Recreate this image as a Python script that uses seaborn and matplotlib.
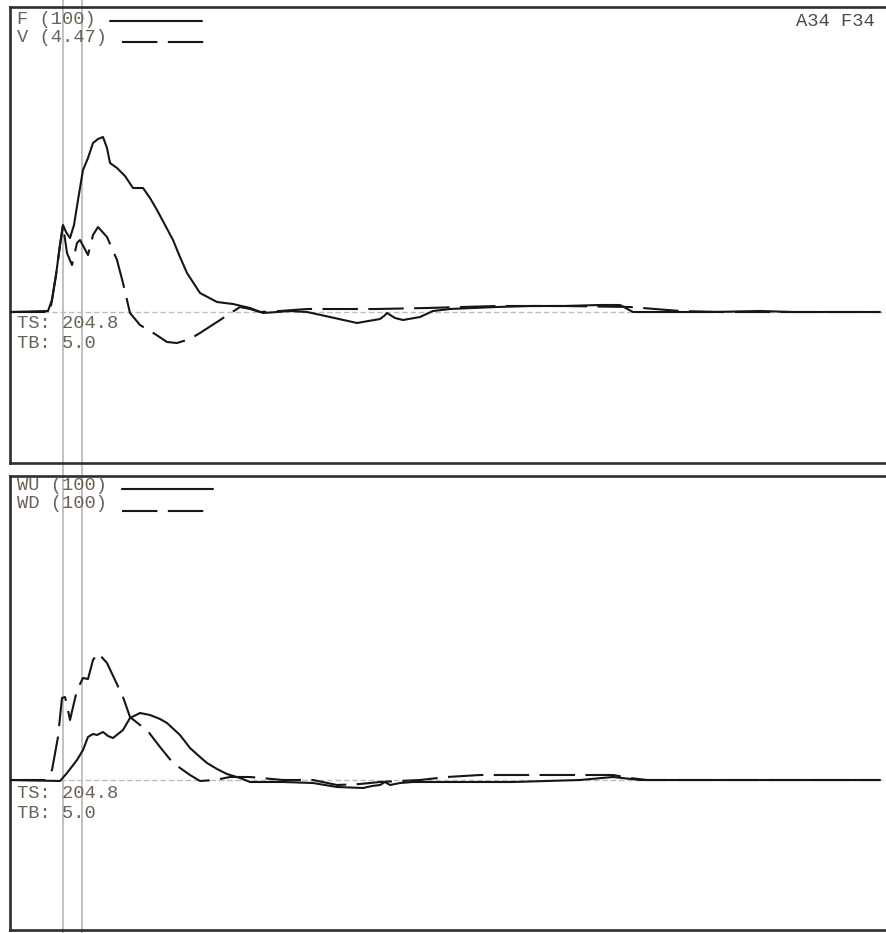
import matplotlib
matplotlib.use("Agg")
import matplotlib.pyplot as plt
import seaborn as sns
import pandas as pd

# sample index (0 = left edge of the trace window)
t_force = [0, 38, 42, 46, 50, 53, 56, 60, 64, 68, 73, 78, 83, 88, 93, 97, 100, 107, 115, 123,
           133, 140, 147, 155, 163, 170, 177, 190, 207, 223, 240, 253, 267, 280, 297, 320, 347,
           370, 374, 377, 385, 393, 410, 423, 440, 487, 520, 553, 590, 610, 623, 670, 703, 750,
           783, 830, 870]
force = [0, 1, 12, 37, 67, 87, 80, 74, 87, 112, 142, 154, 169, 173, 175, 164, 149, 144, 136, 124,
         124, 114, 102, 87, 72, 55, 39, 19, 10, 8, 4, -1, 0, 1, 0, -5, -11,
         -7, -4, -1, -6, -8, -5, 1, 3, 5, 6, 6, 7, 7, 0, 0, 0, 1,
         0, 0, 0]

t_vel = [0, 40, 46, 50, 53, 57, 62, 67, 70, 78, 83, 88, 97, 107, 113, 120, 130, 145, 157, 167,
         180, 190, 207, 230, 240, 250, 270, 297, 367, 417, 487, 553, 620, 670, 710, 870]
velocity = [0, 0, 37, 67, 87, 59, 47, 69, 72, 57, 77, 85, 75, 52, 29, -1, -13, -22, -30, -31,
            -27, -21, -10, 5, 3, 0, 1, 3, 3, 4, 6, 6, 5, 1, 0, 0]

t_wu = [0, 50, 57, 67, 73, 78, 83, 87, 93, 98, 103, 113, 120, 130, 140, 150, 157, 170, 180, 190,
        197, 207, 217, 230, 240, 273, 303, 327, 353, 362, 370, 375, 380, 390, 403, 453, 503, 570,
        603, 630, 690, 870]
wave_up = [0, -1, 7, 20, 30, 43, 46, 45, 48, 44, 42, 50, 62, 67, 65, 61, 57, 45, 32, 23,
           17, 11, 6, 2, -2, -2, -3, -7, -8, -6, -5, -2, -5, -3, -2, -2, -2, 0,
           3, 0, 0, 0]

t_wd = [0, 35, 42, 48, 52, 55, 57, 60, 67, 73, 78, 83, 88, 97, 105, 113, 120, 130, 137, 150,
        163, 180, 190, 205, 220, 240, 273, 303, 327, 350, 370, 410, 437, 470, 603, 620, 637, 870]
wave_down = [0, 0, 10, 43, 82, 83, 75, 60, 90, 102, 101, 120, 127, 117, 100, 83, 63, 55, 50, 33,
             17, 5, -1, 0, 3, 3, 0, 0, -5, -4, -2, 0, 3, 5, 5, 2, 0, 0]

cursors = [53, 72]
top_labels = ["F (100)", "V (4.47)"]
bottom_labels = ["WU (100)", "WD (100)"]
ts_text = "TS: 204.8"
tb_text = "TB: 5.0"
corner_text = "A34 F34"

sns.set_style("white")
plt.rcParams["font.family"] = ["Liberation Mono", "DejaVu Sans Mono"]

ink = "#161616"
dash = (0, (17, 5))
txt_col = "#6a6254"
fs = 13.5

fig = plt.figure(figsize=(8.86, 9.33), dpi=100)
ax_top = fig.add_axes([10 / 886, 470 / 933, 885 / 886, 456 / 933])
ax_bot = fig.add_axes([10 / 886, 3 / 933, 885 / 886, 454 / 933])

df_f = pd.DataFrame({"t": t_force, "amp": force})
df_v = pd.DataFrame({"t": t_vel, "amp": velocity})
df_wu = pd.DataFrame({"t": t_wu, "amp": wave_up})
df_wd = pd.DataFrame({"t": t_wd, "amp": wave_down})

panels = [
    (ax_top, df_f, df_v, top_labels, (-151, 305), [(0.113, 0.217, 0.969), (0.1266, 0.2203, 0.923)],
     [0.972, 0.933], (0.305, 0.263)),
    (ax_bot, df_wu, df_wd, bottom_labels, (-150, 304), [(0.1266, 0.2294, 0.9714), (0.1266, 0.2203, 0.9229)],
     [0.979, 0.9395], (0.2996, 0.2577)),
]

for ax, solid, dashed, labels, ylim, keys, label_y, tstb_y in panels:
    ax.axhline(0, color="#bdbdbd", lw=1, ls=(0, (4, 2)), zorder=1)
    sns.lineplot(data=solid, x="t", y="amp", ax=ax, color=ink, linewidth=1.5,
                 sort=False, estimator=None, zorder=3)
    sns.lineplot(data=dashed, x="t", y="amp", ax=ax, color=ink, linewidth=1.5,
                 linestyle=dash, sort=False, estimator=None, zorder=3)
    ax.set_xlim(0, 885)
    ax.set_ylim(*ylim)
    ax.set_xticks([])
    ax.set_yticks([])
    ax.set_xlabel("")
    ax.set_ylabel("")
    for side in ax.spines.values():
        side.set_color("#2e2e2e")
        side.set_linewidth(1.9)

    # key text + line samples
    for lab, yy in zip(labels, label_y):
        ax.text(0.0075, yy, lab, transform=ax.transAxes, fontsize=fs, color=txt_col,
                va="center", ha="left")
    (x0, x1, yk), (x2, x3, yk2) = keys
    ax.plot([x0, x1], [yk, yk], transform=ax.transAxes, color=ink, lw=1.5)
    ax.plot([x2, x3], [yk2, yk2], transform=ax.transAxes, color=ink, lw=1.5, ls=dash)

    ax.text(0.0075, tstb_y[0], ts_text, transform=ax.transAxes, fontsize=fs,
            color=txt_col, va="center")
    ax.text(0.0075, tstb_y[1], tb_text, transform=ax.transAxes, fontsize=fs,
            color=txt_col, va="center")

ax_top.text(0.9774, 0.969, corner_text, transform=ax_top.transAxes, fontsize=fs,
            color="#4a4a4a", ha="right", va="center")

# cursor lines run through both panels
for c in cursors:
    ax_top.axvline(c, ymin=-0.03, ymax=1.02, color="#bcbcbc", lw=1.3, clip_on=False, zorder=2)
    ax_bot.axvline(c, ymin=-0.01, ymax=1.0, color="#bcbcbc", lw=1.3, clip_on=False, zorder=2)

fig.savefig("out.png", dpi=100)
